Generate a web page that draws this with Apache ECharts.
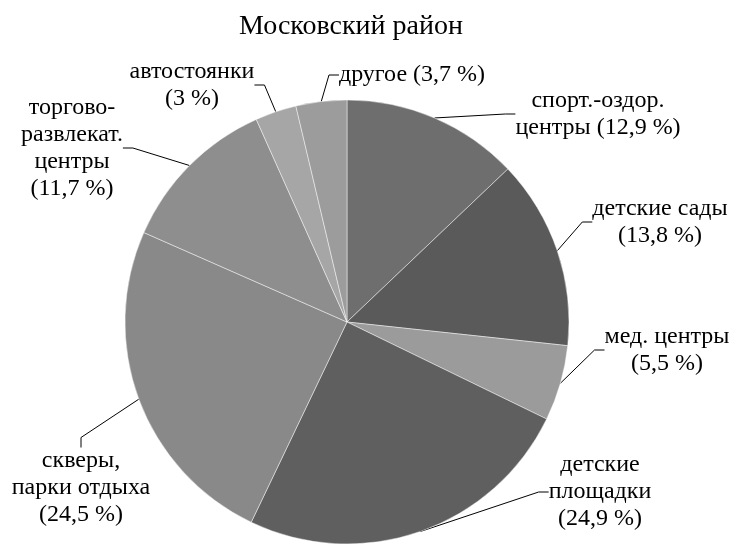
<!DOCTYPE html>
<html>
<head>
<meta charset="utf-8">
<script src="https://cdn.jsdelivr.net/npm/echarts@6/dist/echarts.min.js"></script>
<style>
  html, body { margin: 0; padding: 0; background: #fff; }
  #chart { width: 731px; height: 544px; }
</style>
</head>
<body>
<div id="chart"></div>
<script>
// data, clockwise from 12 o'clock
const names = ['спорт.-оздор.\nцентры', 'детские сады', 'мед. центры', 'детские\nплощадки',
  'скверы,\nпарки отдыха', 'торгово-\nразвлекат.\nцентры', 'автостоянки', 'другое']
const values = [12.9, 13.8, 5.5, 24.9, 24.5, 11.7, 3, 3.7]
const seps = [' ', '\n', '\n', '\n', '\n', '\n', '\n', ' ']
const colors = ['#6e6e6e', '#5a5a5a', '#9b9b9b', '#5f5f5f', '#898989', '#8e8e8e', '#a6a6a6', '#9c9c9c']

// label centres (layout only)
const labelPos = [
  [598, 114], [660, 222], [667, 350], [600, 492],
  [81, 488], [72, 148], [192, 85], [412, 75]
]

const myChart = echarts.init(document.getElementById('chart'))
const option = {
  animation: false,
  title: {
    text: 'Московский район',
    left: 234,
    top: 8,
    textStyle: {
      fontFamily: 'Liberation Serif',
      fontSize: 28,
      fontWeight: 'normal',
      color: '#000'
    }
  },
  series: [{
    type: 'pie',
    // wide view rect so outside labels are not truncated
    left: -200,
    right: -200,
    top: 0,
    bottom: 0,
    center: [547, 322],
    radius: 222,
    startAngle: 90,
    clockwise: true,
    data: values.map((v, i) => ({
      name: names[i],
      value: v,
      itemStyle: { color: colors[i] }
    })),
    itemStyle: {
      borderColor: 'rgba(255,255,255,0.45)',
      borderWidth: 1
    },
    label: {
      show: true,
      position: 'outside',
      fontFamily: 'Liberation Serif',
      fontSize: 24,
      lineHeight: 27,
      color: '#000',
      align: 'center',
      overflow: 'none',
      formatter: p => p.name + seps[p.dataIndex] + '(' + String(p.value).replace('.', ',') + ' %)'
    },
    labelLine: {
      show: true,
      length: 10,
      length2: 10,
      lineStyle: { color: '#000', width: 1 }
    },
    labelLayout: p => ({
      x: labelPos[p.dataIndex][0],
      y: labelPos[p.dataIndex][1],
      align: 'center',
      verticalAlign: 'middle'
    })
  }]
}
myChart.setOption(option)
</script>
</body>
</html>
